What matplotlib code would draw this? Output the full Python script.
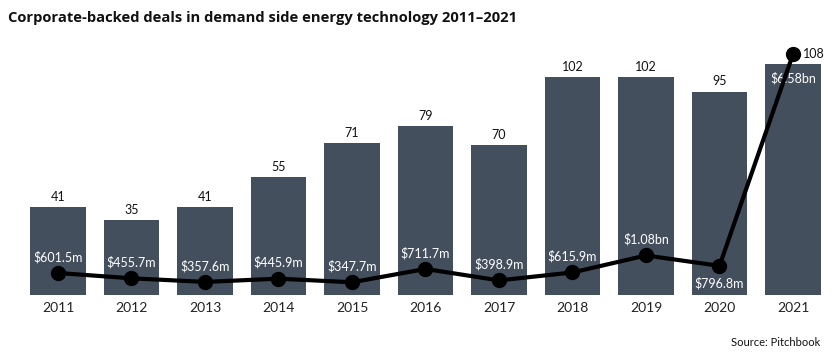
import numpy as np
import matplotlib.pyplot as plt

years = ['2011', '2012', '2013', '2014', '2015', '2016', '2017', '2018', '2019', '2020', '2021']
deals = [41, 35, 41, 55, 71, 79, 70, 102, 102, 95, 108]
value_m = [601.5, 455.7, 357.6, 445.9, 347.7, 711.7, 398.9, 615.9, 1080, 796.8, 6580]
value_labels = ['$601.5m', '$455.7m', '$357.6m', '$445.9m', '$347.7m', '$711.7m',
                '$398.9m', '$615.9m', '$1.08bn', '$796.8m', '$6.58bn']

plt.rcParams['font.family'] = ['Lato', 'DejaVu Sans']

fig = plt.figure(figsize=(8.35, 3.59), dpi=100)
ax = fig.add_axes([21.25 / 835, 1 - 295 / 359, 808.5 / 835, 250 / 359])
ax2 = ax.twinx()

x = np.arange(len(years))
bars = ax.bar(x, deals, width=0.76, color='#444f5d', zorder=1)
ax.set_xlim(-0.5, len(years) - 0.5)
ax.set_ylim(0, 116.8)
ax2.set_ylim(0, 6830)

for xi, d in zip(x, deals):
    if xi == len(years) - 1:
        continue
    ax.annotate(str(d), (xi, d), xytext=(0, 3), textcoords='offset points',
                ha='center', va='bottom', fontsize=9, color='#111111')

ax2.plot(x, value_m, color='black', lw=3, marker='o', markersize=10, zorder=3)

for xi, v, lab in zip(x, value_m, value_labels):
    if xi == 9:
        off, va = (0, -8), 'top'
    elif xi == 10:
        continue
    else:
        off, va = (0, 7), 'bottom'
    ax2.annotate(lab, (xi, v), xytext=off, textcoords='offset points',
                 ha='center', va=va, fontsize=9, color='white')

# 2021 labels
ax2.annotate(str(deals[-1]), (x[-1], value_m[-1]), xytext=(7, 0), textcoords='offset points',
             ha='left', va='center', fontsize=9, color='#111111')
ax.annotate(value_labels[-1], (x[-1], deals[-1]), xytext=(0, -6), textcoords='offset points',
            ha='center', va='top', fontsize=9, color='white')

for a in (ax, ax2):
    for s in a.spines.values():
        s.set_visible(False)
    a.set_yticks([])
ax.set_xticks(x)
ax.set_xticklabels(years, fontsize=10, color='#222222')
ax.tick_params(axis='x', length=0, pad=5)

fig.text(8 / 835, 1 - 18 / 359, 'Corporate-backed deals in demand side energy technology 2011\u20132021',
         fontsize=10.6, fontweight='bold', ha='left', va='center', color='#111111',
         family=['Open Sans', 'DejaVu Sans'])
fig.text(820 / 835, 1 - 342 / 359, 'Source: Pitchbook', fontsize=8, ha='right', va='center',
         color='#111111')

fig.savefig('out.png', dpi=100)
